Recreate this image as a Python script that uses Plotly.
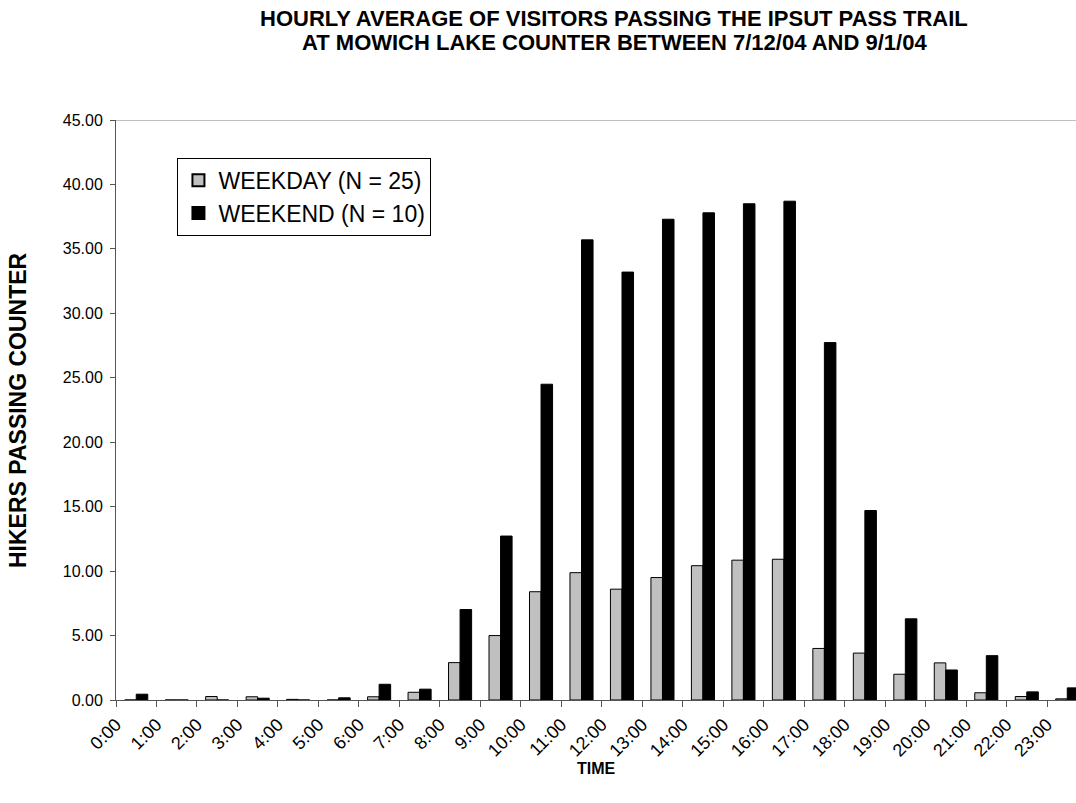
import plotly.graph_objects as go

# Hourly averages of hikers passing the Ipsut Pass trail counter
hours = [f"{h}:00" for h in range(24)]
weekday = [0.00, 0.00, 0.27, 0.25, 0.05, 0.00, 0.25, 0.60, 2.90, 5.00, 8.40, 9.88,
           8.60, 9.50, 10.42, 10.85, 10.92, 4.00, 3.64, 2.00, 2.88, 0.56, 0.27, 0.09]
weekend = [0.45, 0.00, 0.00, 0.14, 0.00, 0.17, 1.22, 0.84, 7.02, 12.72, 24.50, 35.70,
           33.20, 37.30, 37.80, 38.50, 38.70, 27.73, 14.70, 6.30, 2.33, 3.44, 0.63, 0.94]
y_ticks = [0, 5, 10, 15, 20, 25, 30, 35, 40, 45]
title_lines = ["HOURLY AVERAGE OF VISITORS PASSING THE IPSUT PASS TRAIL",
               "AT MOWICH LAKE COUNTER BETWEEN 7/12/04 AND 9/1/04"]

# Categories sit between tick marks: tick i at x=i, group i centred at i+0.5
tick_pos = list(range(len(hours)))
group_pos = [i + 0.5 for i in tick_pos]

FONT = "Liberation Sans, Arial, sans-serif"

fig = go.Figure()
fig.add_trace(go.Bar(
    x=group_pos, y=weekday, name="WEEKDAY (N = 25)",
    marker=dict(color="#C0C0C0", line=dict(color="#000000", width=1)),
))
fig.add_trace(go.Bar(
    x=group_pos, y=weekend, name="WEEKEND (N = 10)",
    marker=dict(color="#000000", line=dict(color="#000000", width=1)),
))

annotations = [
    dict(text=f"<b>{line}</b>", xref="paper", yref="paper", x=0.519, y=1.0,
         yshift=shift, xanchor="center", yanchor="middle", showarrow=False,
         font=dict(size=22, family=FONT))
    for line, shift in zip(title_lines, [102, 78])
]
annotations += [
    dict(text="<b>TIME</b>", xref="paper", yref="paper", x=0.5, y=0, yshift=-58,
         xanchor="center", yanchor="top", showarrow=False,
         font=dict(size=16, family=FONT)),
    dict(text="<b>HIKERS PASSING COUNTER</b>", xref="paper", yref="paper",
         x=0, xshift=-98, y=0.5, textangle=-90,
         xanchor="center", yanchor="middle", showarrow=False,
         font=dict(size=23, family=FONT)),
]

fig.update_layout(
    width=1076, height=803,
    margin=dict(l=116, r=0, t=120, b=103),
    paper_bgcolor="white", plot_bgcolor="white",
    barmode="group", bargap=0.43, bargroupgap=0,
    font=dict(family=FONT, color="#000000", size=16),
    showlegend=True,
    legend=dict(
        x=0.064, y=0.935, xanchor="left", yanchor="top",
        bgcolor="white", bordercolor="#000000", borderwidth=1,
        font=dict(size=23, family=FONT),
        itemsizing="constant", tracegroupgap=2,
    ),
    xaxis=dict(
        range=[0, 23.716], tickmode="array", tickvals=tick_pos, ticktext=hours,
        tickangle=-45, ticks="outside", ticklen=6, tickcolor="#555555",
        showline=True, linecolor="#555555", linewidth=1,
        showgrid=False, zeroline=False,
        tickfont=dict(size=18, family=FONT),
    ),
    yaxis=dict(
        range=[0, 45], tickmode="array", tickvals=y_ticks,
        ticktext=[f"{v:.2f}" for v in y_ticks],
        ticks="outside", ticklen=5, tickcolor="#555555",
        showline=True, linecolor="#555555", linewidth=1,
        showgrid=False, zeroline=False, ticklabelstandoff=4,
        tickfont=dict(size=16, family=FONT),
    ),
    shapes=[dict(type="line", xref="paper", yref="y", x0=0, x1=1, y0=45, y1=45,
                 line=dict(color="#808080", width=1))],
    annotations=annotations,
)

fig.write_html("out.html")
